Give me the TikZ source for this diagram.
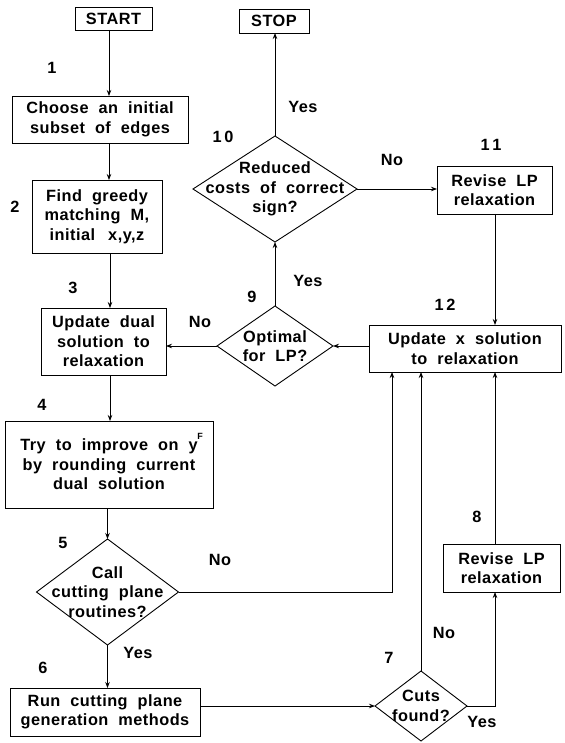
\documentclass[tikz,border=0pt]{standalone}
\usepackage{fontspec}
\setmainfont{Liberation Sans}[WordSpace=2.0, LetterSpace=3]
\usetikzlibrary{arrows.meta,shapes.geometric}
\begin{document}
\begin{tikzpicture}[x=1pt,y=-1pt,
  every node/.style={font=\fontsize{16.3}{19.5}\selectfont\bfseries},
  box/.style={draw, rectangle, line width=0.9pt, inner sep=0pt, outer sep=0pt, align=center},
  dia/.style={draw, diamond, line width=0.9pt, inner sep=0pt, outer sep=0pt},
  txt/.style={align=center, inner sep=0pt},
  lab/.style={inner sep=0pt},
  arr/.style={line width=0.8pt, -{Stealth[length=6pt,width=4.5pt]}}]
\useasboundingbox (0,0) rectangle (564,743);
% boxes
\node[box, minimum width=77, minimum height=23] (start) at (113.5,18.5) {START};
\node[box, minimum width=70, minimum height=24] (stop) at (274,21) {STOP};
\node[box, minimum width=176, minimum height=47] (b1) at (100,119.5) {Choose an initial\\subset of edges};
\node[box, minimum width=130, minimum height=73] (b2) at (97,216.5) {Find greedy\\matching M,\\initial \hspace{3pt}x,y,z};
\node[box, minimum width=125, minimum height=67] (b3) at (103.5,341.5) {Update dual\\solution to\\relaxation};
\node[box, minimum width=208, minimum height=87] (b4) at (109,464.5) {Try to improve on y\\by rounding current\\dual solution};
\node[lab, font=\fontsize{9}{10}\selectfont\bfseries] (supF) at (200,436) {F};
\node[box, minimum width=190, minimum height=48] (b6) at (105,712) {Run cutting plane\\generation methods};
\node[box, minimum width=117, minimum height=48] (b8) at (501.5,568) {Revise LP\\relaxation};
\node[box, minimum width=115, minimum height=48] (b11) at (494.5,190) {Revise LP\\relaxation};
\node[box, minimum width=192, minimum height=47] (b12) at (465,348.5) {Update x solution\\to relaxation};
% diamonds
\node[dia, minimum width=142, minimum height=106] (d5) at (107.5,592) {};
\node[txt] (t5) at (d5) {Call\\cutting plane\\routines?};
\node[dia, minimum width=92, minimum height=70] (d7) at (421,706) {};
\node[txt] (t7) at (d7) {Cuts\\found?};
\node[dia, minimum width=116, minimum height=80] (d9) at (275,346) {};
\node[txt] (t9) at (d9) {Optimal\\for LP?};
\node[dia, minimum width=164, minimum height=106] (d10) at (275,189) {};
\node[txt] (t10) at (d10) {Reduced\\costs of correct\\sign?};
% helper x positions
\coordinate (c109) at (109,0);
\coordinate (c110) at (110,0);
\coordinate (c392) at (392,0);
\coordinate (c495) at (495,0);
% connectors
\draw[arr] (start.south -| c109) -- (b1.north -| c109);
\draw[arr] (b1.south -| c109) -- (b2.north -| c109);
\draw[arr] (b2.south -| c110) -- (b3.north -| c110);
\draw[arr] (b3.south -| c110) -- (b4.north -| c110);
\draw[arr] (b4.south -| d5.north) -- (d5.north);
\draw[arr] (d5.south) -- (b6.north -| d5.south);
\draw[arr] (b6.east |- d7.west) -- (d7.west);
\draw[arr] (d7.north) -- (b12.south -| d7.north);
\draw[arr] (d7.east) -| (b8.south -| c495);
\draw[arr] (b8.north -| c495) -- (b12.south -| c495);
\draw[arr] (d5.east) -| (b12.south -| c392);
\draw[arr] (b12.west |- d9.east) -- (d9.east);
\draw[arr] (d9.west) -- (b3.east |- d9.west);
\draw[arr] (d9.north) -- (d10.south);
\draw[arr] (d10.north) -- (stop.south -| d10.north);
\draw[arr] (d10.east) -- (b11.west |- d10.east);
\draw[arr] (b11.south -| c495) -- (b12.north -| c495);
% step numbers
\node[lab] (n1) at (52,68) {1};
\node[lab] (n2) at (15,207) {2};
\node[lab] (n3) at (73,288) {3};
\node[lab] (n4) at (42,405) {4};
\node[lab] (n5) at (63,543) {5};
\node[lab] (n6) at (43,668) {6};
\node[lab] (n7) at (389,658) {7};
\node[lab] (n8) at (477,517) {8};
\node[lab] (n9) at (252,297) {9};
\node[lab] (n10) at (223,137) {1\,0};
\node[lab] (n11) at (491,145) {1\,1};
\node[lab] (n12) at (445,305) {1\,2};
% branch labels
\node[lab] (y10) at (303,107) {Yes};
\node[lab] (no10) at (392,160) {No};
\node[lab] (y9) at (308,281) {Yes};
\node[lab] (no9) at (200,322) {No};
\node[lab] (no5) at (220,560) {No};
\node[lab] (y5) at (138,653) {Yes};
\node[lab] (no7) at (444,633) {No};
\node[lab] (y7) at (482,722) {Yes};
\end{tikzpicture}
\end{document}
